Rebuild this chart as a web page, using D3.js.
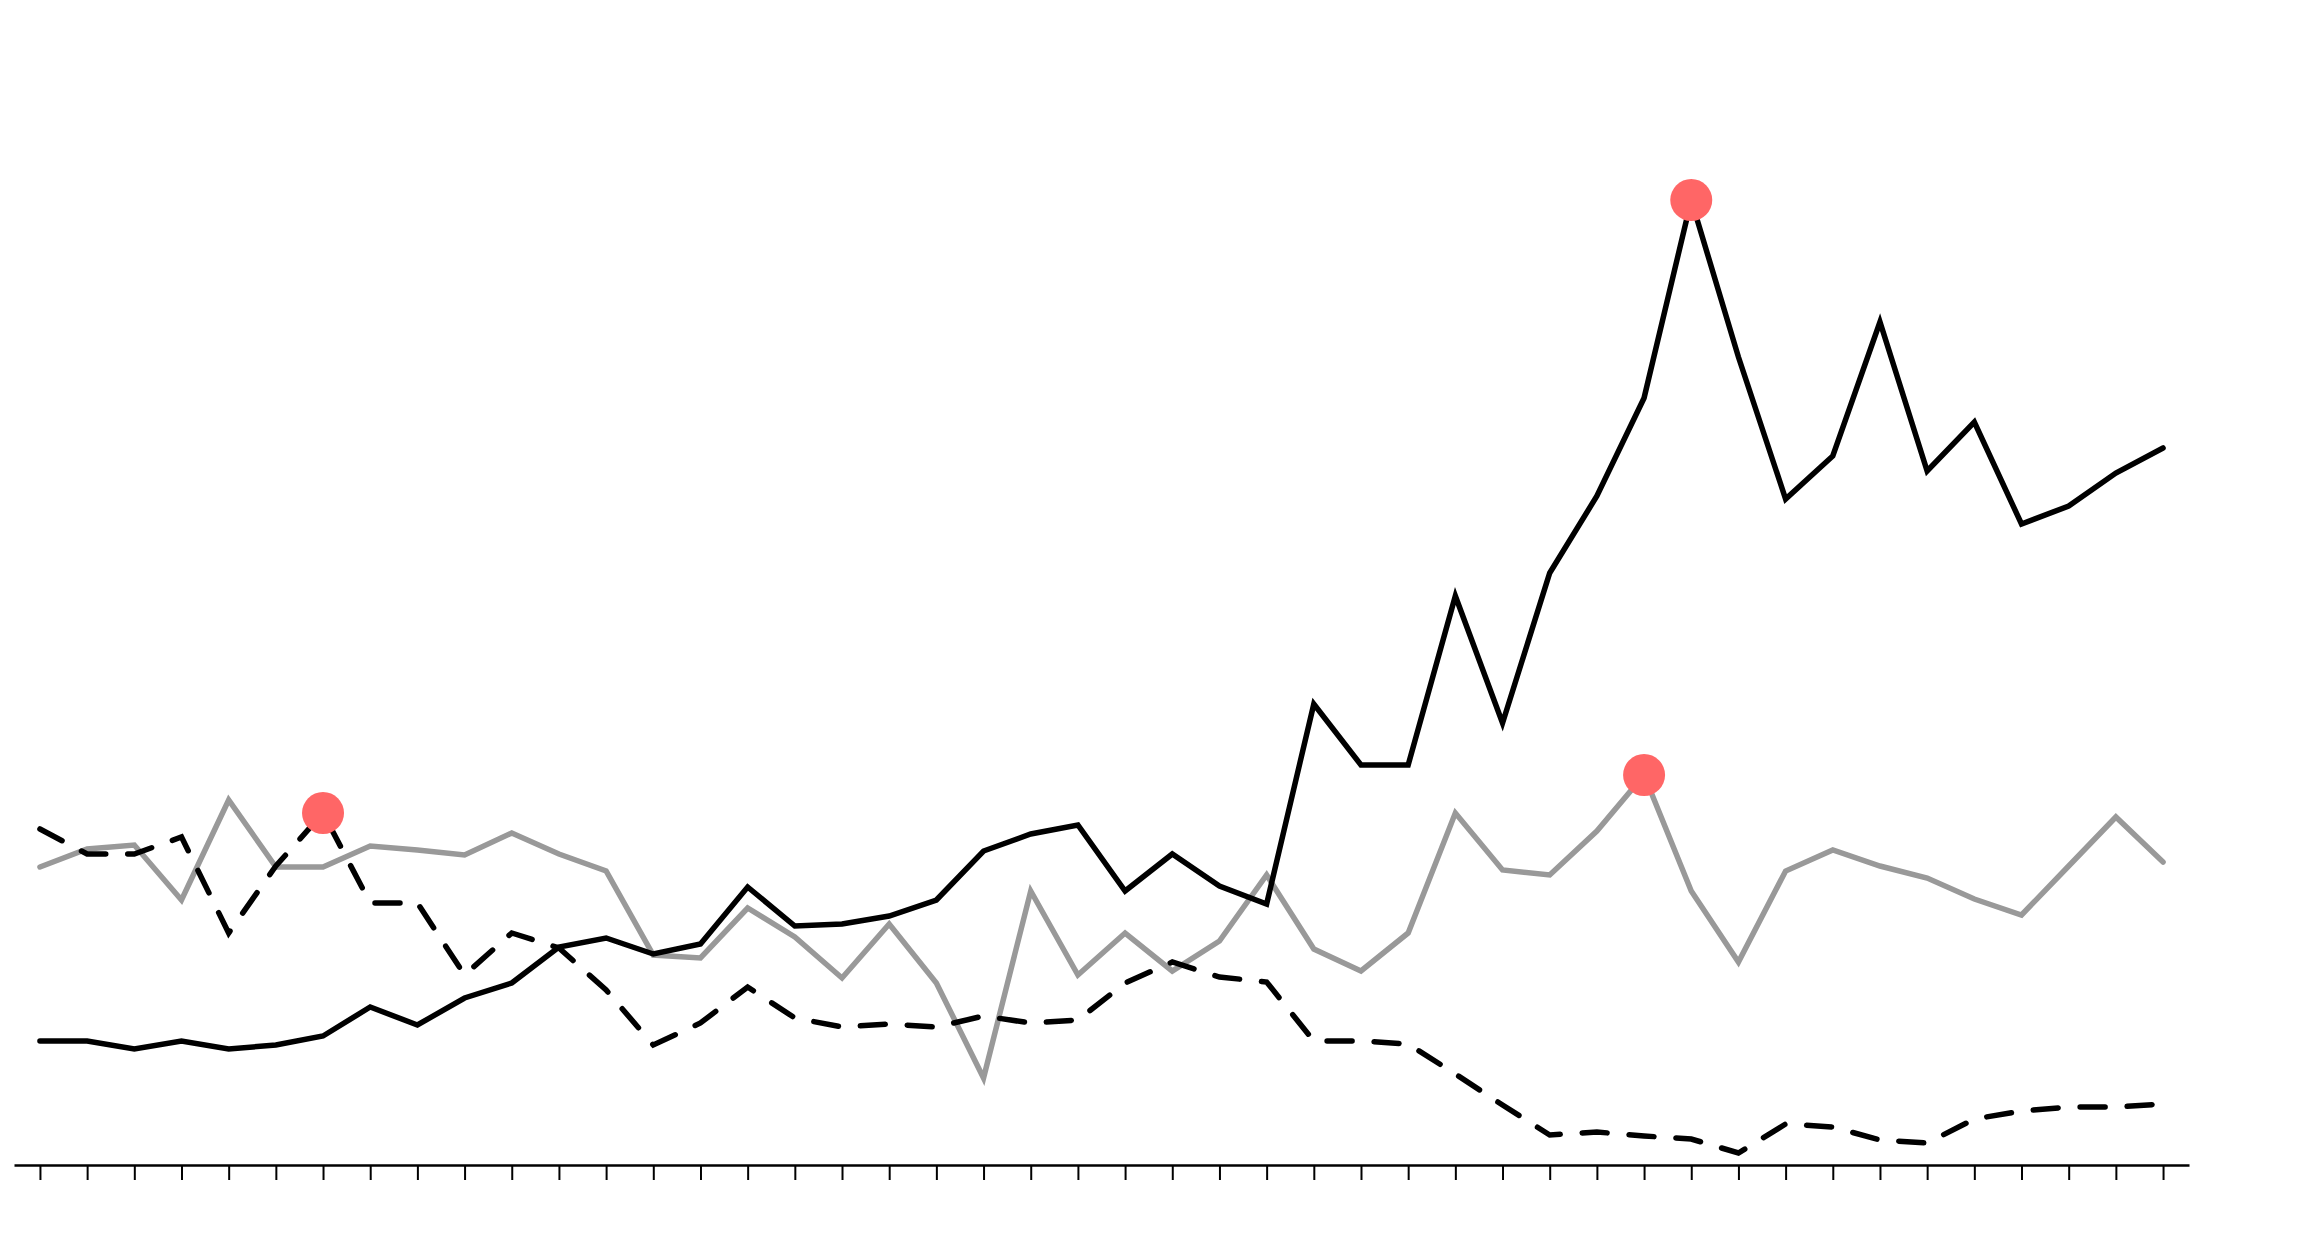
<!DOCTYPE html>
<html>
<head>
<meta charset="utf-8">
<script src="https://cdn.jsdelivr.net/npm/d3@7"></script>
<style>
    body { margin: 0; background: #fff; }
    svg { display: block; }
    .axis path, .axis line { stroke: #000; }
    .axis path { stroke-width: 2.5px; }
    .axis line { stroke-width: 2px; }
    .series { fill: none; stroke-linecap: round; stroke-linejoin: miter; }
</style>
</head>
<body>
<svg id="chart"></svg>
<script>
// one value per tick, 46 periods
var periods = d3.range(1, 47);

var solidValues = [12.4, 12.4, 11.6, 12.4, 11.6, 12.0, 12.9, 15.8, 14.0, 16.7,
    18.2, 21.8, 22.7, 21.1, 22.1, 27.8, 23.9, 24.1, 24.9, 26.5,
    31.4, 33.1, 34.0, 27.4, 31.1, 27.9, 26.1, 46.1, 40.0, 40.0,
    56.9, 44.2, 59.2, 66.9, 76.7, 96.5, 80.8, 66.6, 70.9, 84.3,
    69.4, 74.3, 64.1, 65.9, 69.2, 71.7];

var greyValues = [29.8, 31.6, 32.0, 26.5, 36.5, 29.8, 29.8, 31.9, 31.5, 31.0,
    33.2, 31.1, 29.4, 21.0, 20.7, 25.7, 22.8, 18.7, 24.1, 18.2,
    8.7, 27.4, 19.0, 23.2, 19.4, 22.4, 29.0, 21.6, 19.4, 23.2,
    35.2, 29.5, 29.0, 33.4, 39.0, 27.4, 20.3, 29.4, 31.5, 29.9,
    28.7, 26.6, 25.0, 29.9, 34.8, 30.3];

var dashedValues = [33.6, 31.1, 31.1, 32.8, 23.2, 29.9, 35.2, 26.2, 26.2, 19.0,
    23.2, 21.7, 17.5, 12.0, 14.2, 17.8, 14.7, 13.8, 14.1, 13.8,
    14.9, 14.2, 14.5, 18.2, 20.3, 18.8, 18.3, 12.4, 12.4, 12.1,
    9.1, 6.0, 3.0, 3.3, 2.9, 2.6, 1.2, 4.1, 3.8, 2.5,
    2.2, 4.6, 5.4, 5.8, 5.8, 6.1];

var width = 2320, height = 1240;

var svg = d3.select('svg#chart')
    .attr('width', width)
    .attr('height', height);

var x = d3.scalePoint().domain(periods).range([14, 2189]).padding(0.55);
var y = d3.scaleLinear().domain([0, 110]).range([1165, 65]);

var xAxis = d3.axisBottom(x)
    .tickSize(15)
    .tickSizeOuter(0)
    .tickFormat('');

svg.append('g')
    .attr('class', 'x axis')
    .attr('transform', 'translate(0,' + y(0) + ')')
    .call(xAxis);

var line = function(values) {
    return d3.line()
        .x(function(d, i) { return x(periods[i]); })
        .y(function(d) { return y(d); })(values);
};

var series = [
    {name: 'grey', values: greyValues, color: '#999999', dash: null},
    {name: 'dashed', values: dashedValues, color: '#000000', dash: '25,22'},
    {name: 'solid', values: solidValues, color: '#000000', dash: null}
];

series.forEach(function(s) {
    svg.append('path')
        .attr('class', 'series ' + s.name)
        .attr('d', line(s.values))
        .style('stroke', s.color)
        .style('stroke-width', '5.5px')
        .style('stroke-dasharray', s.dash);
});

// red dot on each series' highest point
series.forEach(function(s) {
    var i = d3.maxIndex(s.values);
    svg.append('circle')
        .attr('cx', x(periods[i]))
        .attr('cy', y(s.values[i]))
        .attr('r', 21)
        .style('fill', '#ff6666');
});
</script>
</body>
</html>
